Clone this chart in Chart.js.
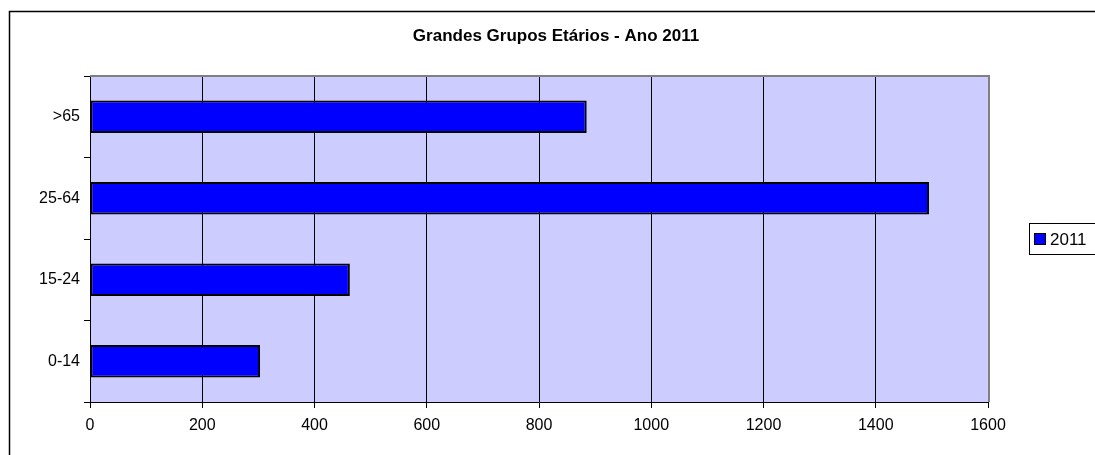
<!DOCTYPE html>
<html>
<head>
<meta charset="utf-8">
<script src="https://cdn.jsdelivr.net/npm/chart.js@4/dist/chart.umd.min.js"></script>
<style>
html,body{margin:0;padding:0;background:#fff;}
#wrap{width:1095px;height:455px;position:relative;}
</style>
</head>
<body>
<div id="wrap"><canvas id="c" width="1095" height="455"></canvas></div>
<script>
const chartTitle = 'Grandes Grupos Etários - Ano 2011';
const categories = ['0-14', '15-24', '25-64', '>65'];
const seriesLabel = '2011';
const values2011 = [303, 463, 1495, 885];
const xTicks = [0, 200, 400, 600, 800, 1000, 1200, 1400, 1600];

const FONT = '"Liberation Sans", Arial, sans-serif';

const decor = {
  id: 'decor',
  afterLayout(chart) {
    const t = chart.titleBlock;
    if (t) { t.left = 9; t.right = 1103; t.width = t.right - t.left; }
  },
  beforeDraw(chart) {
    const {ctx, chartArea: a} = chart;
    ctx.save();
    ctx.fillStyle = '#fff';
    ctx.fillRect(0, 0, chart.width, chart.height);
    ctx.fillStyle = '#CCCCFF';
    ctx.fillRect(a.left, a.top, a.right - a.left, a.bottom - a.top);
    ctx.restore();
  },
  afterDraw(chart) {
    const {ctx, chartArea: a} = chart;
    ctx.save();
    ctx.strokeStyle = '#808080';
    ctx.lineWidth = 2;
    ctx.beginPath();
    ctx.moveTo(a.left, a.top);
    ctx.lineTo(a.right + 1, a.top);
    ctx.lineTo(a.right + 1, a.bottom);
    ctx.stroke();
    ctx.strokeStyle = '#000';
    ctx.lineWidth = 1.5;
    ctx.beginPath();
    ctx.moveTo(9.5, chart.height + 5);
    ctx.lineTo(9.5, 11.5);
    ctx.lineTo(chart.width + 5, 11.5);
    ctx.stroke();
    const ds = chart.data.datasets[0];
    ctx.lineWidth = 1;
    ctx.strokeStyle = '#000';
    ctx.fillStyle = '#fff';
    ctx.fillRect(1029.5, 223.5, 80, 31);
    ctx.strokeRect(1029.5, 223.5, 80, 31);
    ctx.fillStyle = ds.backgroundColor;
    ctx.fillRect(1034.5, 233.5, 11, 11);
    ctx.strokeRect(1034.5, 233.5, 11, 11);
    ctx.fillStyle = '#000';
    ctx.font = '17px ' + FONT;
    ctx.textBaseline = 'middle';
    ctx.textAlign = 'left';
    ctx.fillText(ds.label, 1050, 240);
    ctx.restore();
  }
};

new Chart(document.getElementById('c'), {
  type: 'bar',
  data: {
    labels: categories,
    datasets: [{
      label: seriesLabel,
      data: values2011,
      backgroundColor: '#0000FF',
      borderColor: '#000000',
      borderWidth: 2,
      borderSkipped: false,
      categoryPercentage: 0.8,
      barPercentage: 0.5
    }]
  },
  options: {
    indexAxis: 'y',
    responsive: false,
    animation: false,
    devicePixelRatio: 1,
    layout: { padding: { left: 0, right: 107, top: 0, bottom: 0 } },
    plugins: {
      legend: { display: false },
      tooltip: { enabled: false },
      title: {
        display: true,
        text: chartTitle,
        color: '#000',
        font: { family: FONT, size: 17, weight: 'bold' },
        padding: { top: 26, bottom: 29.6 }
      }
    },
    scales: {
      x: {
        min: 0, max: 1600,
        afterBuildTicks(scale) { scale.ticks = xTicks.map(v => ({value: v})); },
        afterFit(scale) { scale.height = 53; },
        grid: { color: '#000', lineWidth: 1, drawTicks: true, tickLength: 6, tickColor: '#000' },
        border: { display: true, color: '#000', width: 1 },
        ticks: { color: '#000', font: { family: FONT, size: 16 }, padding: 8, maxRotation: 0,
                 callback: v => String(v) }
      },
      y: {
        reverse: true,
        afterFit(scale) { scale.width = 90; },
        grid: { drawOnChartArea: false, drawTicks: true, tickLength: 6, color: '#000', offset: true },
        border: { display: true, color: '#000', width: 1 },
        ticks: { color: '#000', font: { family: FONT, size: 16 }, padding: 4 }
      }
    }
  },
  plugins: [decor]
});
</script>
</body>
</html>
